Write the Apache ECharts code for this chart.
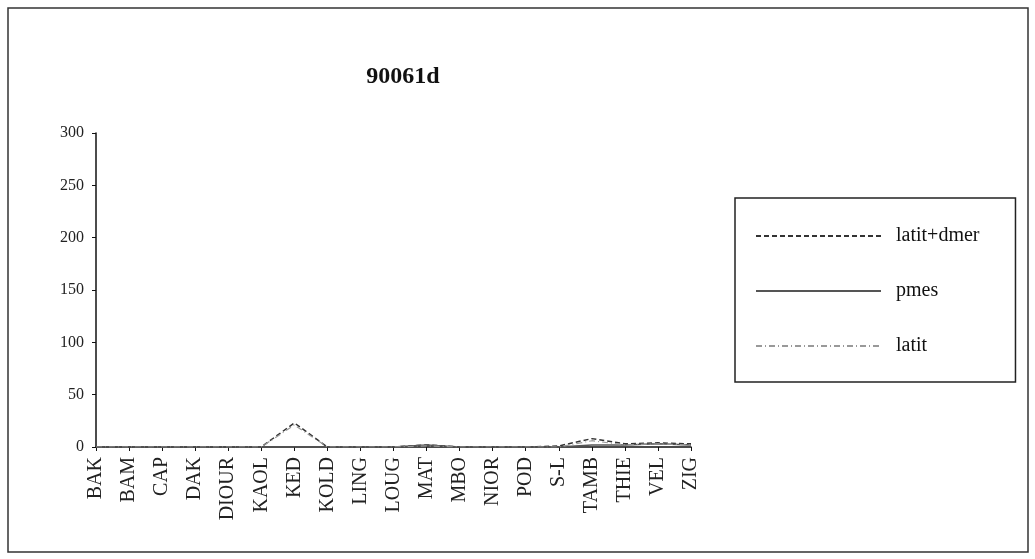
<!DOCTYPE html>
<html>
<head>
<meta charset="utf-8">
<script src="https://cdn.jsdelivr.net/npm/echarts@6/dist/echarts.min.js"></script>
<style>
html,body{margin:0;padding:0;background:#fff;}
#container{width:1035px;height:559px;}
</style>
</head>
<body>
<div id="container"></div>
<script>
// stations on the x axis
var stations = ["BAK","BAM","CAP","DAK","DIOUR","KAOL","KED","KOLD","LING","LOUG","MAT","MBO","NIOR","POD","S-L","TAMB","THIE","VEL","ZIG"];
// series
var latitDmer = [0,0,0,0,0,0,23,0,0,0,2,0,0,0,1,8,3,4,3];
var pmes      = [0,0,0,0,0,0,0,0,0,0,2,0,0,0,0,2,2,3,2];
var latit     = [0,0,0,0,0,0,21,0,0,0,1,0,0,0,0,6,2,3,2];
var yTicks = [0,50,100,150,200,250,300];

var dom = document.getElementById("container");
var myChart = echarts.init(dom);
var serif = "Liberation Serif";

var option = {
    backgroundColor: '#fff',
    animation: false,
    title: {
        text: '90061d',
        left: 398,
        textAlign: 'center',
        top: 60,
        textStyle: {fontFamily: serif, fontWeight: 'bold', fontSize: 24, color: '#111'}
    },
    graphic: [{
        type: 'rect',
        shape: {x: 8, y: 8, width: 1020, height: 544},
        style: {fill: 'none', stroke: '#333', lineWidth: 1.5}
    }],
    legend: {
        orient: 'vertical',
        left: 735,
        top: 198,
        padding: [28, 36, 26, 20],
        itemWidth: 125,
        itemHeight: 14,
        itemGap: 35,
        borderColor: '#222',
        borderWidth: 1.5,
        itemStyle: {color: 'transparent', borderColor: 'transparent', borderWidth: 0},
        textStyle: {fontFamily: serif, fontSize: 20, color: '#111', padding: [0, 0, 0, 10]},
        data: ['latit+dmer', 'pmes', 'latit']
    },
    grid: {left: 96, top: 133, right: 344, bottom: 112, containLabel: false},
    xAxis: {
        type: 'category',
        data: stations,
        boundaryGap: false,
        axisLine: {lineStyle: {color: '#111', width: 1.5}},
        axisTick: {show: true, inside: false, length: 4, lineStyle: {color: '#111'}},
        axisLabel: {rotate: 90, interval: 0, fontFamily: serif, fontSize: 20, color: '#222', margin: 10}
    },
    yAxis: {
        type: 'value',
        min: 0,
        max: yTicks[yTicks.length - 1],
        interval: yTicks[1] - yTicks[0],
        axisLine: {show: true, lineStyle: {color: '#111', width: 1.5}},
        axisTick: {show: true, length: 4, lineStyle: {color: '#111'}},
        splitLine: {show: false},
        axisLabel: {fontFamily: serif, fontSize: 16, color: '#222', margin: 12}
    },
    series: [{
        name: 'latit+dmer',
        type: 'line',
        data: latitDmer,
        showSymbol: false,
        symbol: 'none',
        lineStyle: {color: '#333', width: 1.5, type: [5, 3]},
        itemStyle: {color: '#333'}
    }, {
        name: 'pmes',
        type: 'line',
        data: pmes,
        showSymbol: false,
        symbol: 'none',
        lineStyle: {color: '#555', width: 1.5, type: 'solid'},
        itemStyle: {color: '#555'}
    }, {
        name: 'latit',
        type: 'line',
        data: latit,
        showSymbol: false,
        symbol: 'none',
        lineStyle: {color: '#999', width: 1.2, type: [6, 3, 1, 3]},
        itemStyle: {color: '#999'}
    }]
};
if (option && typeof option === "object") {
    myChart.setOption(option, true);
}
</script>
</body>
</html>
